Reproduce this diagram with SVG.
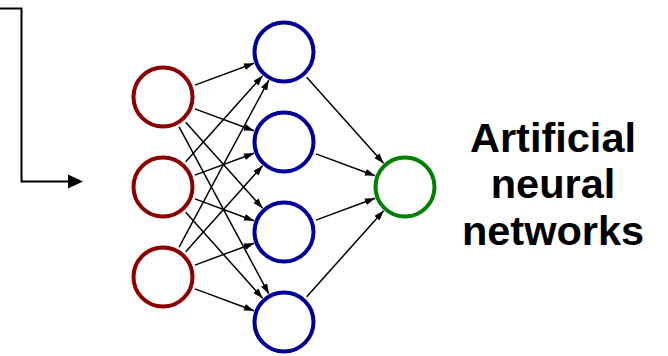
<svg xmlns="http://www.w3.org/2000/svg" width="668" height="356" viewBox="0 0 668 356">
<style>
.in{fill:#fff;stroke:#8b0000;stroke-width:4}
.hid{fill:#fff;stroke:#000099;stroke-width:4}
.out{fill:#fff;stroke:#008000;stroke-width:4}
.e{stroke:#000;stroke-width:1.5;fill:none;marker-end:url(#ah)}
.lbl{font-family:"Liberation Sans",Arial,sans-serif;font-weight:bold;font-size:41.5px;fill:#000;text-anchor:middle}
</style>
<defs>
<marker id="ah" viewBox="0 0 10 7" refX="10" refY="3.5" markerWidth="10" markerHeight="7" markerUnits="userSpaceOnUse" orient="auto">
<path d="M0,0 L10,3.5 L0,7 Z" fill="#000"/>
</marker>
</defs>
<g id="connectors">
<path d="M0,8.5 H21.5 V181.5 H69" stroke="#000" stroke-width="2" fill="none"/>
<polygon points="68,174.5 83,181.5 68,188.5" fill="#000"/>
<line class="e" x1="194.9" y1="85.1" x2="254.0" y2="63.2"/>
<line class="e" x1="194.9" y1="108.9" x2="254.0" y2="130.8"/>
<line class="e" x1="185.7" y1="122.3" x2="262.6" y2="208.2"/>
<line class="e" x1="179.1" y1="126.9" x2="268.8" y2="293.8"/>
<line class="e" x1="185.7" y1="161.7" x2="262.6" y2="75.8"/>
<line class="e" x1="194.9" y1="175.1" x2="254.0" y2="153.2"/>
<line class="e" x1="194.9" y1="198.9" x2="254.0" y2="220.8"/>
<line class="e" x1="185.7" y1="212.3" x2="262.6" y2="298.2"/>
<line class="e" x1="179.1" y1="247.1" x2="268.8" y2="80.2"/>
<line class="e" x1="185.7" y1="251.7" x2="262.6" y2="165.8"/>
<line class="e" x1="194.9" y1="265.1" x2="254.0" y2="243.2"/>
<line class="e" x1="194.9" y1="288.9" x2="254.0" y2="310.8"/>
<line class="e" x1="306.7" y1="77.3" x2="383.6" y2="163.2"/>
<line class="e" x1="315.9" y1="153.9" x2="375.0" y2="175.8"/>
<line class="e" x1="315.9" y1="220.1" x2="375.0" y2="198.2"/>
<line class="e" x1="306.7" y1="296.7" x2="383.6" y2="210.8"/>
</g>
<g id="input1"><circle class="in" cx="163" cy="97" r="29.5"/></g>
<g id="input2"><circle class="in" cx="163" cy="187" r="29.5"/></g>
<g id="input3"><circle class="in" cx="163" cy="277" r="29.5"/></g>
<g id="hidden1"><circle class="hid" cx="284" cy="52" r="29.5"/></g>
<g id="hidden2"><circle class="hid" cx="284" cy="142" r="29.5"/></g>
<g id="hidden3"><circle class="hid" cx="284" cy="232" r="29.5"/></g>
<g id="hidden4"><circle class="hid" cx="284" cy="322" r="29.5"/></g>
<g id="output"><circle class="out" cx="405" cy="187" r="29.5"/></g>
<g id="label">
<text class="lbl" x="553" y="152">Artificial</text>
<text class="lbl" x="553" y="198">neural</text>
<text class="lbl" x="553" y="245">networks</text>
</g>
</svg>
